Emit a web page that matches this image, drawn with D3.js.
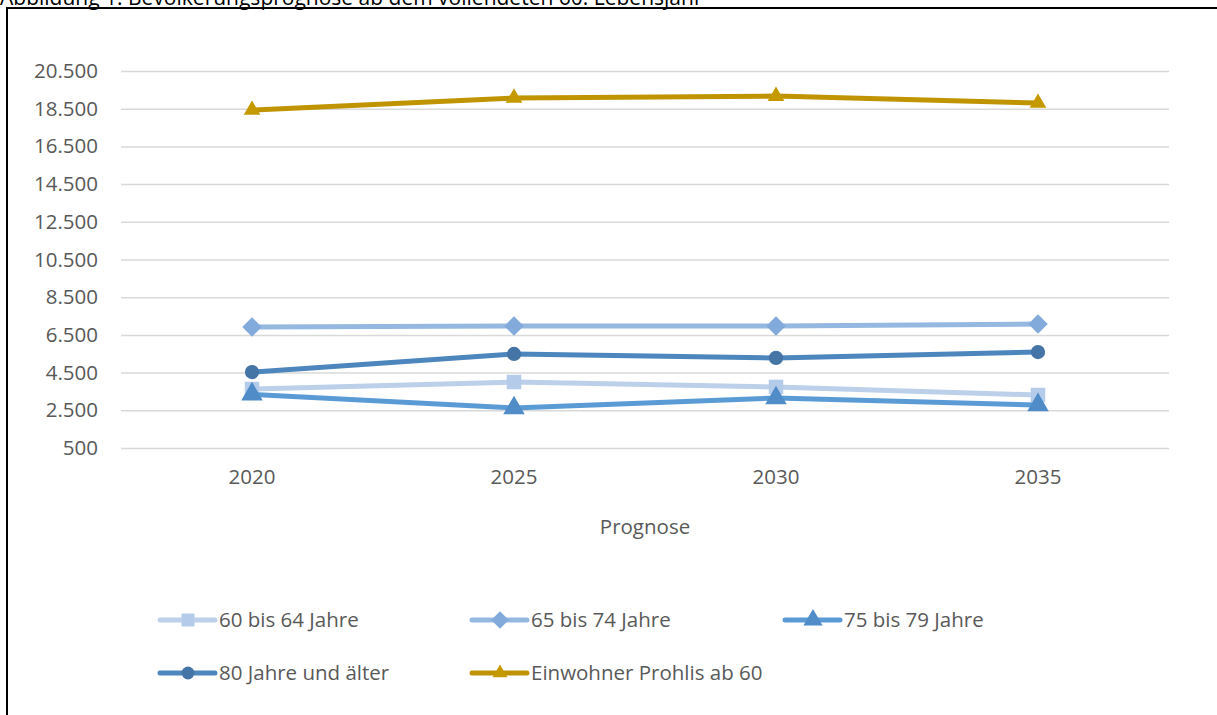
<!DOCTYPE html>
<html>
<head>
<meta charset="utf-8">
<script src="https://cdn.jsdelivr.net/npm/d3@7"></script>
<style>
    body { margin: 0; background: #fff; }
    svg { display: block; font-family: "Open Sans", sans-serif; }
</style>
</head>
<body>
<svg id="chart" width="1217" height="715"></svg>
<script>
// data
const years = ["2020", "2025", "2030", "2035"];
const yTicks = [500, 2500, 4500, 6500, 8500, 10500, 12500, 14500, 16500, 18500, 20500];

const seriesNames = ["60 bis 64 Jahre", "65 bis 74 Jahre", "75 bis 79 Jahre", "80 Jahre und älter", "Einwohner Prohlis ab 60"];
const values60to64 = [3630, 4000, 3740, 3310];
const values65to74 = [6920, 6970, 6970, 7080];
const values75to79 = [3350, 2620, 3150, 2780];
const values80plus = [4530, 5490, 5280, 5590];
const valuesTotal = [18430, 19070, 19170, 18800];

const series = [
    { name: seriesNames[0], values: values60to64, line: "#bcd0ea", fill: "#b4cbe9", symbol: d3.symbolSquare, size: 210, rotate: 0 },
    { name: seriesNames[1], values: values65to74, line: "#95b8e0", fill: "#82abdc", symbol: d3.symbolSquare, size: 190, rotate: 45 },
    { name: seriesNames[2], values: values75to79, line: "#5b9bd5", fill: "#4f8cc8", symbol: d3.symbolTriangle, size: 200, rotate: 0 },
    { name: seriesNames[3], values: values80plus, line: "#4c86bd", fill: "#4574a6", symbol: d3.symbolCircle, size: 160, rotate: 0 },
    { name: seriesNames[4], values: valuesTotal, line: "#c09400", fill: "#c49a00", symbol: d3.symbolTriangle, size: 120, rotate: 0 }
];

const svg = d3.select("#chart");
const textColor = "#595959";
const fontSize = 20.5;

// title, mostly cut off at the top edge (as in the reference)
svg.append("text")
    .attr("x", 0)
    .attr("y", 5)
    .attr("font-size", 21)
    .attr("fill", "#000")
    .text("Abbildung 1: Bevölkerungsprognose ab dem vollendeten 60. Lebensjahr");

// chart frame
svg.append("rect")
    .attr("x", 7)
    .attr("y", 8)
    .attr("width", 1240)
    .attr("height", 740)
    .attr("fill", "none")
    .attr("stroke", "#000")
    .attr("stroke-width", 2);

const plot = { left: 121, right: 1169, top: 71, bottom: 448 };

const x = d3.scaleBand()
    .domain(years)
    .range([plot.left, plot.right]);

const y = d3.scaleLinear()
    .domain([500, 20500])
    .range([plot.bottom, plot.top]);

// gridlines + y labels
const yAxis = svg.append("g")
    .attr("transform", `translate(${plot.left},0)`)
    .call(d3.axisLeft(y)
        .tickValues(yTicks)
        .tickSize(-(plot.right - plot.left))
        .tickPadding(23)
        .tickFormat(d => d3.format(",")(d).replace(/,/g, ".")));

yAxis.select(".domain").remove();
yAxis.selectAll(".tick line")
    .attr("stroke", "#d9d9d9")
    .attr("stroke-width", 1.5);
yAxis.selectAll(".tick text")
    .attr("font-size", fontSize)
    .attr("font-family", "Open Sans, sans-serif")
    .attr("fill", textColor);

// x labels
const xAxis = svg.append("g")
    .attr("transform", `translate(0,${plot.bottom})`)
    .call(d3.axisBottom(x).tickSize(0).tickPadding(21));

xAxis.select(".domain").remove();
xAxis.selectAll(".tick text")
    .attr("font-size", fontSize)
    .attr("font-family", "Open Sans, sans-serif")
    .attr("fill", textColor);

svg.append("text")
    .attr("x", (plot.left + plot.right) / 2)
    .attr("y", 534)
    .attr("text-anchor", "middle")
    .attr("font-size", fontSize)
    .attr("fill", textColor)
    .text("Prognose");

// lines and markers
const line = d3.line()
    .x((d, i) => x(years[i]) + x.bandwidth() / 2)
    .y(d => y(d));

const seriesG = svg.append("g").attr("class", "series");

for (const s of series) {
    const g = seriesG.append("g");

    g.append("path")
        .datum(s.values)
        .attr("d", line)
        .attr("fill", "none")
        .attr("stroke", s.line)
        .attr("stroke-width", 5)
        .attr("stroke-linejoin", "round")
        .attr("stroke-linecap", "round");

    g.selectAll("path.marker")
        .data(s.values)
        .join("path")
        .attr("class", "marker")
        .attr("d", d3.symbol().type(s.symbol).size(s.size))
        .attr("transform", (d, i) => `translate(${x(years[i]) + x.bandwidth() / 2},${y(d)}) rotate(${s.rotate})`)
        .attr("fill", s.fill);
}

// legend
const legendPos = [
    { x: 160, y: 620 }, { x: 472, y: 620 }, { x: 785, y: 620 },
    { x: 160, y: 673 }, { x: 472, y: 673 }
];

const legend = svg.append("g").attr("class", "legend")
    .selectAll("g")
    .data(series)
    .join("g")
    .attr("transform", (d, i) => `translate(${legendPos[i].x},${legendPos[i].y})`);

legend.append("line")
    .attr("x1", 0)
    .attr("x2", 55)
    .attr("stroke", d => d.line)
    .attr("stroke-width", 5)
    .attr("stroke-linecap", "round");

legend.append("path")
    .attr("d", d => d3.symbol().type(d.symbol).size(d.size * 0.8)())
    .attr("transform", d => `translate(28,0) rotate(${d.rotate})`)
    .attr("fill", d => d.fill);

legend.append("text")
    .attr("x", 59)
    .attr("dy", "0.35em")
    .attr("font-size", fontSize)
    .attr("fill", textColor)
    .text(d => d.name);
</script>
</body>
</html>
